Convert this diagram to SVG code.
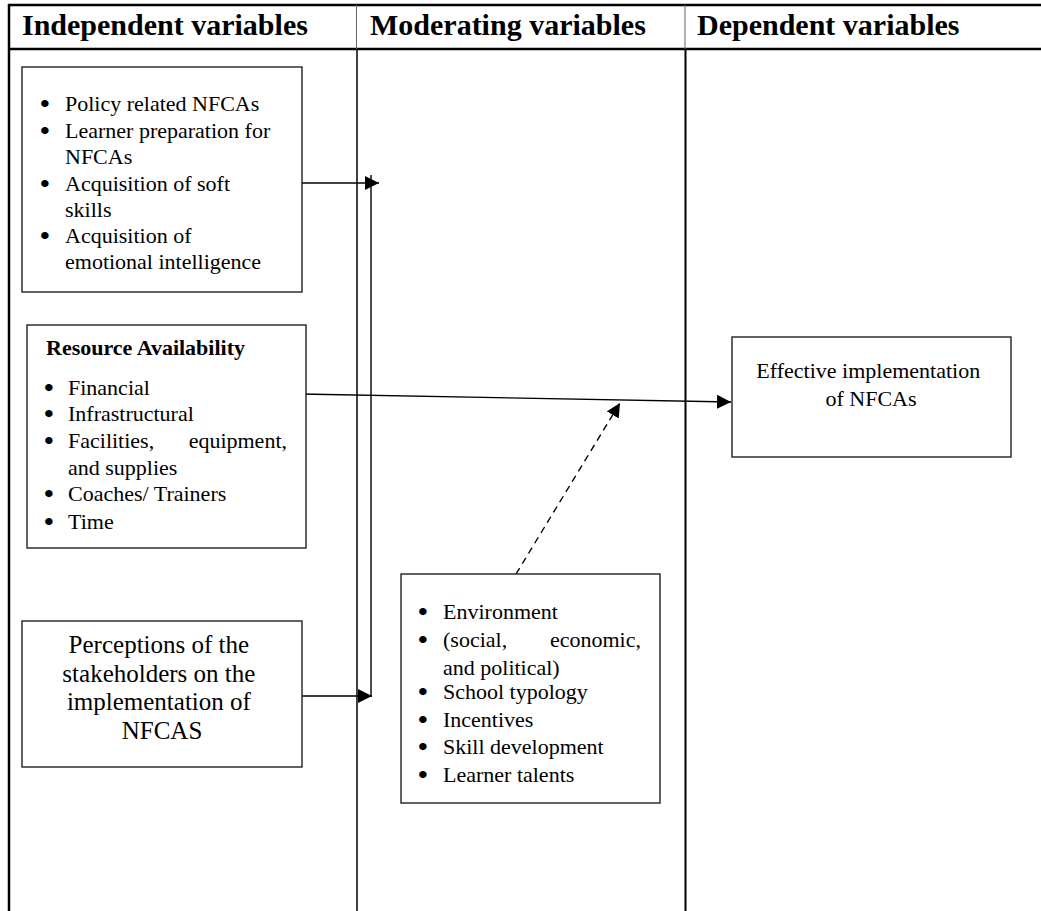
<svg xmlns="http://www.w3.org/2000/svg" width="1041" height="911" viewBox="0 0 1041 911">
<style>
text,tspan{font-family:"Liberation Serif","Times New Roman",serif;fill:#000}
.hd{font-size:30px;font-weight:bold}
.t{font-size:22px}
.b{stroke:#000;stroke-width:2.2px}
.tc{font-size:25px;text-anchor:middle}
.bx{fill:#fff;stroke:#222;stroke-width:1.4}
.cn{stroke:#000;stroke-width:1.4;fill:none}
.dash{stroke-dasharray:7,5}
</style>
<defs>
<marker id="ah" markerUnits="userSpaceOnUse" markerWidth="15" markerHeight="15" refX="14" refY="7" orient="auto">
<path d="M0,0 L14,7 L0,14 Z" fill="#000"/>
</marker>
</defs>
<g id="table">
<line x1="8" y1="5" x2="1041" y2="5" stroke="#000" stroke-width="2.5"/>
<line x1="8" y1="49" x2="1041" y2="49" stroke="#000" stroke-width="2.5"/>
<line x1="9" y1="4" x2="9" y2="911" stroke="#000" stroke-width="2.5"/>
<line x1="356.5" y1="5" x2="356.5" y2="49" stroke="#666" stroke-width="1"/>
<line x1="357" y1="49" x2="357" y2="911" stroke="#000" stroke-width="1.5"/>
<line x1="685" y1="5" x2="685" y2="49" stroke="#666" stroke-width="1"/>
<line x1="685.5" y1="49" x2="685.5" y2="911" stroke="#000" stroke-width="2"/>
<text class="hd" font-family="Liberation Serif, serif" x="22" y="35">Independent variables</text>
<text class="hd" font-family="Liberation Serif, serif" x="370" y="35">Moderating variables</text>
<text class="hd" font-family="Liberation Serif, serif" x="697" y="35">Dependent variables</text>
</g>
<g id="connectors">
<line class="cn" x1="302" y1="183" x2="379" y2="183" marker-end="url(#ah)"/>
<line class="cn" x1="371" y1="175" x2="371" y2="697"/>
<line class="cn" x1="300" y1="696" x2="372" y2="696" marker-end="url(#ah)"/>
<line class="cn" x1="300" y1="394" x2="731" y2="402" marker-end="url(#ah)"/>
<line class="cn dash" x1="516" y1="574" x2="620" y2="403" marker-end="url(#ah)"/>
</g>
<g id="node-policy">
<rect class="bx" x="22" y="67" width="280" height="225"/>
<text class="t" font-family="Liberation Serif, serif" font-size="22">
<tspan class="b" x="41" y="111">•</tspan><tspan x="65" y="111">Policy related NFCAs</tspan>
<tspan class="b" x="41" y="138">•</tspan><tspan x="65" y="138">Learner preparation for</tspan>
<tspan x="65" y="164">NFCAs</tspan>
<tspan class="b" x="41" y="191">•</tspan><tspan x="65" y="191">Acquisition of soft</tspan>
<tspan x="65" y="217">skills</tspan>
<tspan class="b" x="41" y="243">•</tspan><tspan x="65" y="243">Acquisition of</tspan>
<tspan x="65" y="269">emotional intelligence</tspan>
</text>
</g>
<g id="node-resource">
<rect class="bx" x="27" y="325" width="279" height="223"/>
<text x="46" y="355" font-family="Liberation Serif, serif" font-weight="bold" font-size="22">Resource Availability</text>
<text class="t" font-family="Liberation Serif, serif" font-size="22">
<tspan class="b" x="45" y="395">•</tspan><tspan x="68" y="395">Financial</tspan>
<tspan class="b" x="45" y="421">•</tspan><tspan x="68" y="421">Infrastructural</tspan>
<tspan class="b" x="45" y="448">•</tspan><tspan x="68" y="448">Facilities,</tspan>
<tspan x="68" y="475">and supplies</tspan>
<tspan class="b" x="45" y="501">•</tspan><tspan x="68" y="501">Coaches/ Trainers</tspan>
<tspan class="b" x="45" y="529">•</tspan><tspan x="68" y="529">Time</tspan>
</text>
<text class="t" font-family="Liberation Serif, serif" font-size="22" x="287" y="448" text-anchor="end">equipment,</text>
</g>
<g id="node-perceptions">
<rect class="bx" x="22" y="621" width="280" height="146"/>
<text class="tc" font-family="Liberation Serif, serif" font-size="25" text-anchor="middle">
<tspan x="162" y="653">Perceptions of the</tspan>
<tspan x="162" y="682">stakeholders on the</tspan>
<tspan x="162" y="710">implementation of</tspan>
<tspan x="162" y="739">NFCAS</tspan>
</text>
</g>
<g id="node-moderating">
<rect class="bx" x="401" y="574" width="259" height="229"/>
<text class="t" font-family="Liberation Serif, serif" font-size="22">
<tspan class="b" x="419" y="619">•</tspan><tspan x="443" y="619">Environment</tspan>
<tspan class="b" x="419" y="647">•</tspan><tspan x="443" y="647">(social,</tspan>
<tspan x="443" y="675">and political)</tspan>
<tspan class="b" x="419" y="699">•</tspan><tspan x="443" y="699">School typology</tspan>
<tspan class="b" x="419" y="727">•</tspan><tspan x="443" y="727">Incentives</tspan>
<tspan class="b" x="419" y="754">•</tspan><tspan x="443" y="754">Skill development</tspan>
<tspan class="b" x="419" y="782">•</tspan><tspan x="443" y="782">Learner talents</tspan>
</text>
<text class="t" font-family="Liberation Serif, serif" font-size="22" x="641" y="647" text-anchor="end">economic,</text>
</g>
<g id="node-effective">
<rect class="bx" x="732" y="337" width="279" height="120"/>
<text class="t" font-family="Liberation Serif, serif" font-size="22" text-anchor="middle">
<tspan x="871" y="378">Effective implementation</tspan>
<tspan x="871" y="406">of NFCAs</tspan>
</text>
</g>
</svg>
